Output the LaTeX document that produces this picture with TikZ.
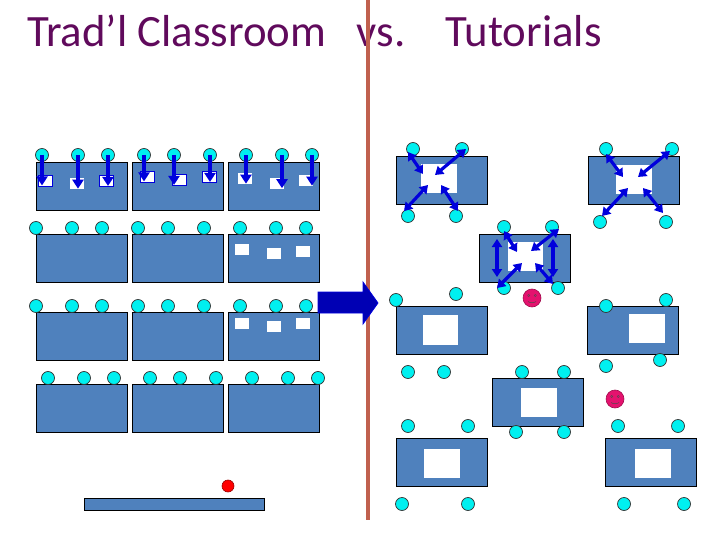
\documentclass[tikz,border=0pt]{standalone}
\usepackage{fontspec}
\setmainfont{Carlito}
\usetikzlibrary{arrows.meta}
\definecolor{deskblue}{RGB}{79,129,189}
\definecolor{chaircyan}{RGB}{0,240,240}
\definecolor{arrblue}{RGB}{0,0,220}
\definecolor{titlepurple}{RGB}{96,10,92}
\definecolor{divider}{RGB}{192,96,78}
\definecolor{bigarrow}{RGB}{0,0,180}
\definecolor{smiley}{RGB}{228,18,110}
\tikzset{
 desk/.style={draw=black, fill=deskblue, line width=0.9pt, inner sep=0, minimum width=91pt, minimum height=48pt},
 chair/.style={circle, draw=black!80, fill=chaircyan, line width=0.7pt, inner sep=0, minimum size=13pt},
 paper/.style={fill=white, inner sep=0, minimum width=14pt, minimum height=11pt},
 opaper/.style={paper, draw=arrblue, line width=0.9pt},
 sq/.style={fill=white, inner sep=0, minimum width=36pt, minimum height=29pt},
 oneway/.style={draw=arrblue, line width=3.2pt, -{Triangle[length=9pt,width=11pt]}},
 twoway/.style={draw=arrblue, line width=3.2pt, {Triangle[length=8pt,width=10pt]}-{Triangle[length=8pt,width=10pt]}},
 face/.style={circle, fill=smiley, draw=smiley!70!black, line width=0.6pt, inner sep=0, minimum size=18pt},
}
\begin{document}
\begin{tikzpicture}[x=1pt,y=-1pt]
\useasboundingbox (0,0) rectangle (720,540);
% title
\node[anchor=base west, text=titlepurple, font=\fontsize{44.8}{50}\selectfont, inner sep=0] (title) at (27,47) {Trad’l Classroom\ \ \ vs.\ \ \ \ Tutorials};

% ---------- traditional classroom ----------
\foreach \r/\y in {1/186,2/258,3/336,4/408}
  \foreach \c/\x in {1/81.5,2/177.5,3/273.5}
    \node[desk] (t\r\c) at (\x,\y) {};
% papers
\node[opaper] (p1) at (45,180.5) {};
\node[paper]  (p2) at (77,184) {};
\node[opaper] (p3) at (106,181) {};
\node[opaper] (p4) at (147.5,176.5) {};
\node[opaper] (p5) at (179.5,180) {};
\node[opaper] (p6) at (209,177) {};
\node[paper]  (p7) at (245,179) {};
\node[paper]  (p8) at (277,183.5) {};
\node[paper]  (p9) at (305.5,181) {};
\node[paper] (q1) at (242,249.5) {};
\node[paper] (q2) at (274,253) {};
\node[paper] (q3) at (303,251) {};
\node[paper] (q4) at (242,323) {};
\node[paper] (q5) at (274,326) {};
\node[paper] (q6) at (303,323.5) {};
% chairs
\foreach \i/\x in {1/42,2/78,3/108,4/144,5/174,6/210,7/246,8/282,9/312}
  \node[chair] (ra\i) at (\x,155) {};
\foreach \i/\x in {1/36,2/72,3/102,4/138,5/168,6/204,7/240,8/276,9/306}
  \node[chair] (rb\i) at (\x,228) {};
\foreach \i/\x in {1/36,2/72,3/102,4/138,5/168,6/204,7/240,8/276,9/306}
  \node[chair] (rc\i) at (\x,306) {};
\foreach \i/\x in {1/48,2/84,3/114,4/150,5/180,6/216,7/252,8/288,9/318}
  \node[chair] (rd\i) at (\x,378) {};
% arrows chairs -> papers
\foreach \i in {1,...,9}
  \draw[oneway] (ra\i.center) -- ([yshift=1pt]ra\i.center |- p\i.south);
% teacher
\node[draw=black, fill=deskblue, line width=0.9pt, inner sep=0, minimum width=180pt, minimum height=12pt] (tdesk) at (174,504) {};
\node[circle, fill=red, draw=red!60!black, line width=0.6pt, inner sep=0, minimum size=12pt] (teacher) at (228,486) {};

% ---------- divider ----------
\coordinate (divtop) at (368,0);
\coordinate (divbot) at (368,520);
\draw[divider, line width=4pt] (divtop) -- (divbot);
% big arrow
\filldraw[fill=bigarrow, draw=arrblue, line width=0.8pt] (318,292) -- (363,292) -- (363,282) -- (378,303) -- (363,324) -- (363,313) -- (318,313) -- cycle;

% ---------- tutorials ----------
\node[desk] (A) at (441.5,180) {};
\node[desk] (B) at (633.5,180) {};
\node[desk] (C) at (525,258) {};
\node[desk] (D) at (441.5,330) {};
\node[desk] (E) at (633,330) {};
\node[desk] (F) at (537.5,402) {};
\node[desk] (G) at (441.5,462) {};
\node[desk] (H) at (651,462) {};
\node[sq] (sA) at (439,178.5) {};
\node[sq] (sB) at (634,180) {};
\node[sq, minimum width=35pt] (sC) at (525.5,256.5) {};
\node[sq, minimum width=35pt, minimum height=30pt] (sD) at (440.5,330) {};
\node[sq] (sE) at (647,328.5) {};
\node[sq] (sF) at (539,402.5) {};
\node[sq] (sG) at (442,463.5) {};
\node[sq] (sH) at (653,463.5) {};
% chairs
\node[chair] (a1) at (413,149) {};
\node[chair] (a2) at (462,149) {};
\node[chair] (a3) at (408,216) {};
\node[chair] (a4) at (456,216) {};
\node[chair] (b1) at (606,149) {};
\node[chair] (b2) at (672,149) {};
\node[chair] (b3) at (600,222) {};
\node[chair] (b4) at (666,222) {};
\node[chair] (c1) at (504,227) {};
\node[chair] (c2) at (552,227) {};
\node[chair] (c3) at (504,288) {};
\node[chair] (c4) at (558,288) {};
\node[chair] (d1) at (396,300) {};
\node[chair] (d2) at (456,294) {};
\node[chair] (d3) at (408,372) {};
\node[chair] (d4) at (444,372) {};
\node[chair] (e1) at (606,306) {};
\node[chair] (e2) at (666,300) {};
\node[chair] (e3) at (606,366) {};
\node[chair] (e4) at (660,360) {};
\node[chair] (f1) at (522,372) {};
\node[chair] (f2) at (564,372) {};
\node[chair] (f3) at (516,432) {};
\node[chair] (f4) at (564,432) {};
\node[chair] (g1) at (408,426) {};
\node[chair] (g2) at (468,426) {};
\node[chair] (g3) at (402,504) {};
\node[chair] (g4) at (468,504) {};
\node[chair] (h1) at (618,426) {};
\node[chair] (h2) at (678,426) {};
\node[chair] (h3) at (624,504) {};
\node[chair] (h4) at (684,504) {};
% arrow end points inside the squares
\coordinate (ea1) at (423,174);
\coordinate (ea2) at (435,175);
\coordinate (ea3) at (428,185);
\coordinate (ea4) at (441,185);
\coordinate (eb1) at (623,177);
\coordinate (eb2) at (638,177);
\coordinate (eb3) at (628,188);
\coordinate (eb4) at (643,188);
\coordinate (ec1) at (517,252);
\coordinate (ec2) at (531,251);
\coordinate (ec3) at (522,263);
\coordinate (ec4) at (535,263);
\coordinate (vl1) at (497,239);
\coordinate (vl2) at (497,277);
\coordinate (vr1) at (553,239);
\coordinate (vr2) at (553,277);
\draw[twoway] (408,152) -- (ea1);
\draw[twoway] (466,149) -- (ea2);
\draw[twoway] (404,211) -- (ea3);
\draw[twoway] (458,211) -- (ea4);
\draw[twoway] (606,154) -- (eb1);
\draw[twoway] (670,151) -- (eb2);
\draw[twoway] (602,216) -- (eb3);
\draw[twoway] (663,213) -- (eb4);
\draw[twoway] (504,231) -- (ec1);
\draw[twoway] (559,229) -- (ec2);
\draw[twoway] (497,288) -- (ec3);
\draw[twoway] (553,284) -- (ec4);
\draw[twoway] (vl1) -- (vl2);
\draw[twoway] (vr1) -- (vr2);
% tutors
\foreach \n/\x/\y in {s1/532/298, s2/615/399}{
  \node[face] (\n) at (\x,\y) {};
  \begin{scope}[shift={(\x,\y)}]
    \draw[black!70, line width=0.4pt] (-3.2,-2.5) circle (1.1) (3.2,-2.5) circle (1.1);
    \draw[black!70, line width=0.5pt] (-4,3.5) .. controls (-2,5.2) and (2,5.2) .. (4,3.5);
  \end{scope}
}
\end{tikzpicture}
\end{document}
